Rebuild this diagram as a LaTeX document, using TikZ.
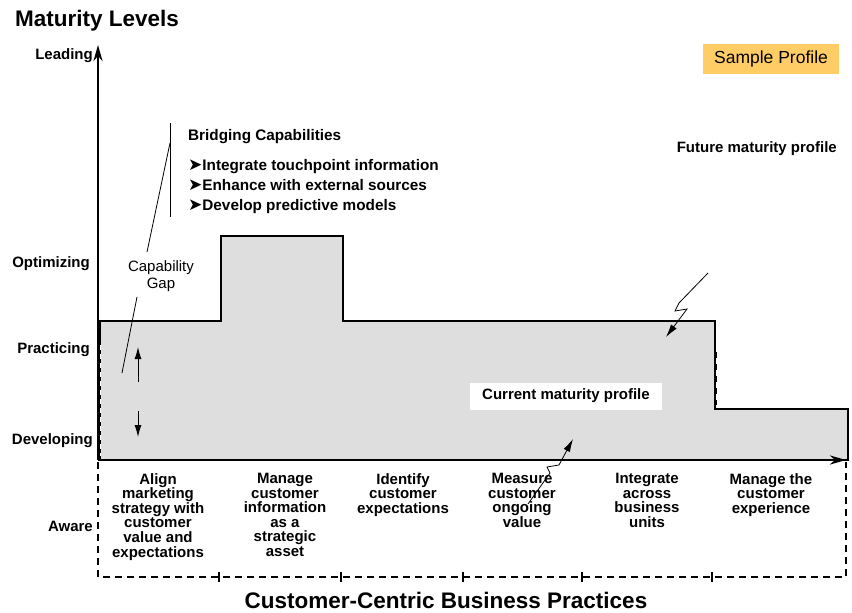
\documentclass[tikz,border=0pt]{standalone}
\usepackage{fontspec}
\setmainfont{Liberation Sans}
\newfontfamily\symfont{DejaVu Sans}
\usetikzlibrary{arrows.meta}
\definecolor{samplefill}{HTML}{FFCC66}
\definecolor{profilefill}{gray}{0.87}

\begin{document}
\begin{tikzpicture}[x=1pt, y=-1pt,
  every node/.style={inner sep=0pt, font=\fontsize{15}{14.6}\selectfont\bfseries},
  level/.style={anchor=base east},
  practice/.style={anchor=north, align=center},
  axis/.style={line width=2.4pt, -{Stealth[length=16pt, width=9pt, inset=5pt]}},
  thin line/.style={line width=0.8pt},
  gap arrow/.style={line width=1pt, -{Latex[length=12pt, width=7pt]}},
  bolt/.style={line width=0.8pt, -{Latex[length=13pt, width=7pt]}}]
  \useasboundingbox (0,0) rectangle (852,613);

  % current profile
  \draw[line width=2pt, fill=profilefill] (100,460) -- (100,321) -- (221,321) -- (221,236)
    -- (343,236) -- (343,321) -- (715,321) -- (715,409) -- (848,409) -- (848,460) -- cycle;
  \draw[line width=3pt, dash pattern=on 6pt off 6pt] (715,352) -- (715,405);
  \draw[white, line width=0.6pt, dash pattern=on 5pt off 4pt] (100,345) -- (100,456);

  % practices box and ticks
  \draw[line width=1.6pt, dash pattern=on 7pt off 5pt] (98,462) -- (98,577) -- (846,577) -- (846,462);
  \foreach \x in {219,341,463,582,712}
    \draw[line width=1.4pt] (\x,572) -- (\x,582);

  % axes
  \coordinate (origin) at (98,460);
  \coordinate (ytip) at (98,45);
  \coordinate (xtip) at (846,460);
  \draw[axis] (origin) -- (ytip);
  \draw[axis] (origin) -- (xtip);

  % titles
  \node[anchor=base west, font=\fontsize{22.5}{26}\selectfont\bfseries] (levels) at (15,27) {Maturity Levels};
  \node[anchor=base, font=\fontsize{22.5}{26}\selectfont\bfseries] (practices) at (446,608) {Customer-Centric Business Practices};

  % maturity levels
  \node[level] (leading) at (93,59) {Leading};
  \node[level] (optimizing) at (90,267) {Optimizing};
  \node[level] (practicing) at (90,353) {Practicing};
  \node[level] (developing) at (93,444) {Developing};
  \node[level] (aware) at (93,531) {Aware};

  % business practices
  \node[practice] (align) at (158,473) {Align\\marketing\\strategy with\\customer\\value and\\expectations};
  \node[practice] (manage) at (285,473) {Manage\\customer\\information\\as a\\strategic\\asset};
  \node[practice] (identify) at (403,473) {Identify\\customer\\expectations};
  \node[practice] (measure) at (522,473) {Measure\\customer\\ongoing\\value};
  \node[practice] (integrate) at (647,473) {Integrate\\across\\business\\units};
  \node[practice] (experience) at (771,473) {Manage the\\customer\\experience};

  % legend and callouts
  \node[fill=samplefill, minimum width=136pt, minimum height=30pt,
    font=\fontsize{17.5}{20}\selectfont] (sample) at (771,59) {Sample Profile};
  \node[anchor=base east] (future) at (837,152) {Future maturity profile};
  \node[fill=white, minimum width=192pt, minimum height=27pt] (current) at (566,396) {Current maturity profile};

  \node[anchor=base west, font=\fontsize{15.3}{17}\selectfont\bfseries] (bridging) at (188,140) {Bridging Capabilities};
  \node[anchor=base west, font=\fontsize{15.3}{17}\selectfont\bfseries] (cap1) at (188,170) {{\symfont\fontsize{17}{17}\selectfont ➤}Integrate touchpoint information};
  \node[anchor=base west, font=\fontsize{15.3}{17}\selectfont\bfseries] (cap2) at (188,190) {{\symfont\fontsize{17}{17}\selectfont ➤}Enhance with external sources};
  \node[anchor=base west, font=\fontsize{15.3}{17}\selectfont\bfseries] (cap3) at (188,210) {{\symfont\fontsize{17}{17}\selectfont ➤}Develop predictive models};
  \coordinate (brtop) at (170,123);
  \coordinate (brbot) at (170,217);
  \coordinate (brfoot) at (170,143);
  \draw[thin line] (brtop) -- (brbot);

  \node[font=\fontsize{15}{17}\selectfont, align=center] (capgap) at (161,276) {Capability\\Gap};
  \coordinate (gapup) at (147,252);
  \coordinate (gapdown) at (137,297);
  \coordinate (gapfoot) at (122,373);
  \draw[thin line] (gapup) -- (brfoot);
  \draw[thin line] (gapdown) -- (gapfoot);

  % gap arrows
  \coordinate (gaphi) at (138,347);
  \coordinate (gapmidhi) at (138,382);
  \coordinate (gapmidlo) at (138,411);
  \coordinate (gaplo) at (138,437);
  \draw[gap arrow] (gapmidhi) -- (gaphi);
  \draw[gap arrow] (gapmidlo) -- (gaplo);

  % lightning arrows
  \coordinate (futstart) at (708,273);
  \coordinate (futend) at (666,337);
  \draw[bolt] (futstart) -- (679,303) -- (675,311) -- (687,309) -- (futend);
  \coordinate (curstart) at (528,504);
  \coordinate (curend) at (573,439);
  \draw[bolt] (curstart) -- (550,473) -- (547,467) -- (559,465) -- (curend);
\end{tikzpicture}
\end{document}
